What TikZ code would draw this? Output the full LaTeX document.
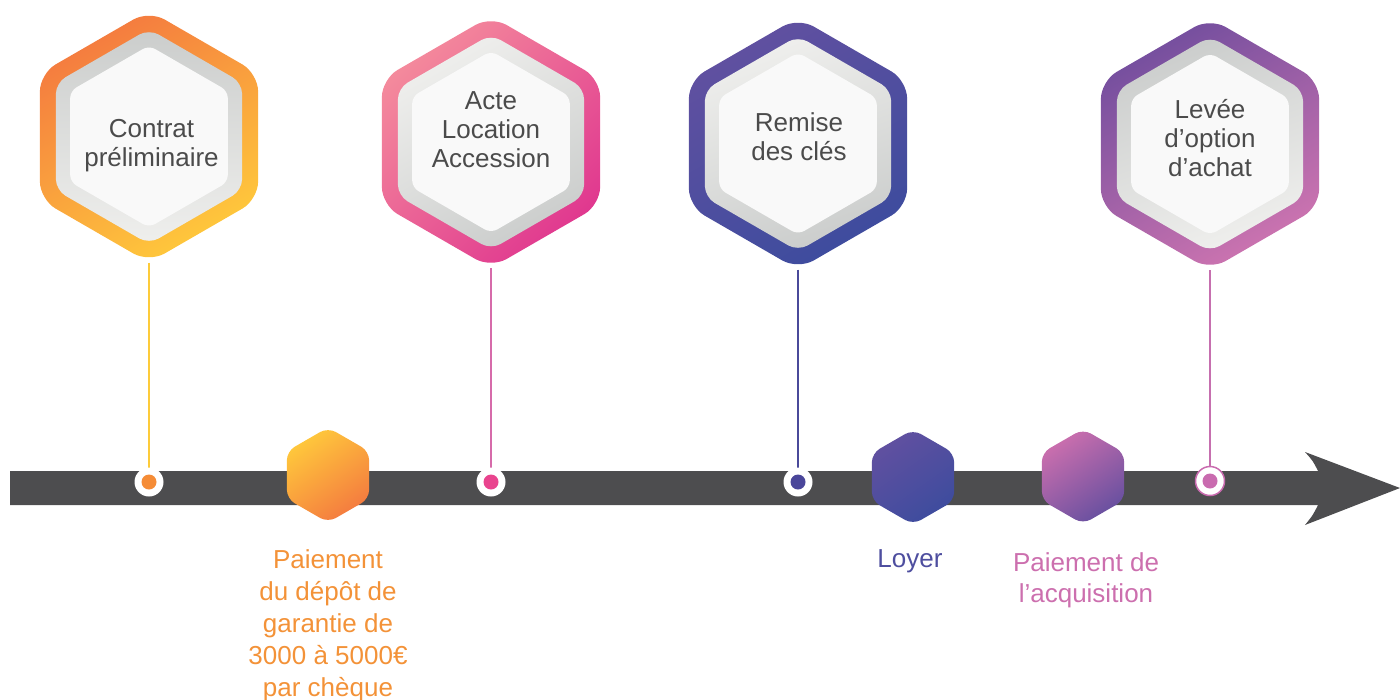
\documentclass[tikz,border=0pt]{standalone}
\usepackage{fontspec}
\setmainfont{Liberation Sans}
\usetikzlibrary{shapes.geometric}
\pgfdeclarelayer{back}
\pgfdeclarelayer{mid}
\pgfsetlayers{back,mid,main}
\definecolor{barcol}{HTML}{4D4D4F}
\definecolor{txtdark}{HTML}{4B4B4B}
\definecolor{innerwhite}{HTML}{F9F9F9}
\definecolor{grayA}{HTML}{CBCDCC}
\definecolor{grayB}{HTML}{EFEFED}
\definecolor{orA}{HTML}{F47A3F}
\definecolor{orB}{HTML}{FFC93C}
\definecolor{pkA}{HTML}{F48A9C}
\definecolor{pkB}{HTML}{E0388F}
\definecolor{inA}{HTML}{6150A0}
\definecolor{inB}{HTML}{3D4C9E}
\definecolor{vpA}{HTML}{734E9E}
\definecolor{vpB}{HTML}{CD74B0}
\definecolor{lineA}{HTML}{FDCB3A}
\definecolor{lineB}{HTML}{D66BAA}
\definecolor{lineC}{HTML}{4A4A9A}
\definecolor{lineD}{HTML}{C66FAF}
\definecolor{dotA}{HTML}{F58C36}
\definecolor{dotB}{HTML}{E9448E}
\definecolor{dotC}{HTML}{4A469A}
\definecolor{dotD}{HTML}{C96BAF}
\definecolor{lblA}{HTML}{F39238}
\definecolor{lblB}{HTML}{4E4E9F}
\definecolor{lblC}{HTML}{CC6FAE}
\begin{document}
\begin{tikzpicture}[x=1pt,y=-1pt,
  hexshape/.style={regular polygon, regular polygon sides=6, shape border rotate=90, inner sep=0pt, outer sep=0pt},
  hexouter/.style={hexshape, minimum size=252pt, rounded corners=18pt},
  hexgray/.style={hexshape, minimum size=215pt, rounded corners=11pt},
  hexwhite/.style={hexshape, minimum size=182pt, rounded corners=7pt, fill=innerwhite},
  hexsmall/.style={hexshape, minimum size=95pt, rounded corners=9pt},
  hextext/.style={text=txtdark, align=center, font=\fontsize{26}{29}\selectfont, anchor=base, inner sep=0pt},
  lbl/.style={align=center, anchor=base, inner sep=0pt},
  dotring/.style={circle, fill=white, minimum size=29pt, inner sep=0pt, outer sep=0pt},
  dotcore/.style={circle, minimum size=15pt, inner sep=0pt, outer sep=0pt},
  vline/.style={line width=2pt}
]
\useasboundingbox (0,0) rectangle (1400,699);
% arrow bar
\begin{pgfonlayer}{back}
\fill[barcol] (10,471) -- (1318,471) .. controls (1313,461) .. (1305,452) -- (1400,488) -- (1305,525) .. controls (1313,515) .. (1318,505) -- (10,505) -- cycle;
\end{pgfonlayer}
% big hexagons
\node[hexouter, top color=orA, bottom color=orB, shading angle=30] (h1) at (149,136.5) {};
\node[hexgray, top color=grayA, bottom color=grayB] (g1) at (h1) {};
\node[hexwhite] (w1) at (h1) {};
\node[hextext] (t1) at (151.5,166.7) {Contrat\\préliminaire};

\node[hexouter, top color=pkA, bottom color=pkB, shading angle=45] (h2) at (491,142) {};
\node[hexgray, top color=grayB, bottom color=grayA, shading angle=30] (g2) at (h2) {};
\node[hexwhite] (w2) at (h2) {};
\node[hextext] (t2) at (491,167.7) {Acte\\Location\\Accession};

\node[hexouter, top color=inA, bottom color=inB, shading angle=30] (h3) at (798,143.5) {};
\node[hexgray, top color=grayB, bottom color=grayA, shading angle=20] (g3) at (h3) {};
\node[hexwhite] (w3) at (h3) {};
\node[hextext] (t3) at (799,160) {Remise\\des clés};

\node[hexouter, top color=vpA, bottom color=vpB, shading angle=30] (h4) at (1210,144) {};
\node[hexgray, top color=grayA, bottom color=grayB, shading angle=20] (g4) at (h4) {};
\node[hexwhite] (w4) at (h4) {};
\node[hextext] (t4) at (1210,176.7) {Levée\\d’option\\d’achat};

% dots on the bar
\node[dotring] (d1) at (149,482) {};
\node[dotcore, fill=dotA] (c1) at (d1) {};
\node[dotring] (d2) at (491,482) {};
\node[dotcore, fill=dotB] (c2) at (d2) {};
\node[dotring] (d3) at (798,482) {};
\node[dotcore, fill=dotC] (c3) at (d3) {};
\node[dotring, draw=dotD, line width=1.5pt] (d4) at (1210,481) {};
\node[dotcore, fill=dotD] (c4) at (d4) {};

% connectors
\begin{pgfonlayer}{mid}
\draw[vline, lineA] (h1.south) -- (d1.north);
\draw[vline, lineB] (h2.south) -- (d2.north);
\draw[vline, lineC] (h3.south) -- (d3.north);
\draw[vline, lineD] (h4.south) -- (d4.north);
\end{pgfonlayer}

% small hexagons
\node[hexsmall, top color=orB, bottom color=orA, shading angle=35] (s1) at (328,475) {};
\node[hexsmall, top color=inA, bottom color=inB, shading angle=35] (s2) at (913,477) {};
\node[hexsmall, top color=lblC, bottom color=inA!70!vpA, shading angle=35] (s3) at (1083,476.5) {};

% labels
\node[lbl, text=lblA, font=\fontsize{26}{32}\selectfont] (l1) at (328,696) {Paiement\\du dépôt de\\garantie de\\3000 à 5000€\\par chèque};
\node[lbl, text=lblB, font=\fontsize{26}{31}\selectfont] (l2) at (910,567) {Loyer};
\node[lbl, text=lblC, font=\fontsize{26}{31}\selectfont] (l3) at (1086,602.7) {Paiement de\\l’acquisition};
\end{tikzpicture}
\end{document}
